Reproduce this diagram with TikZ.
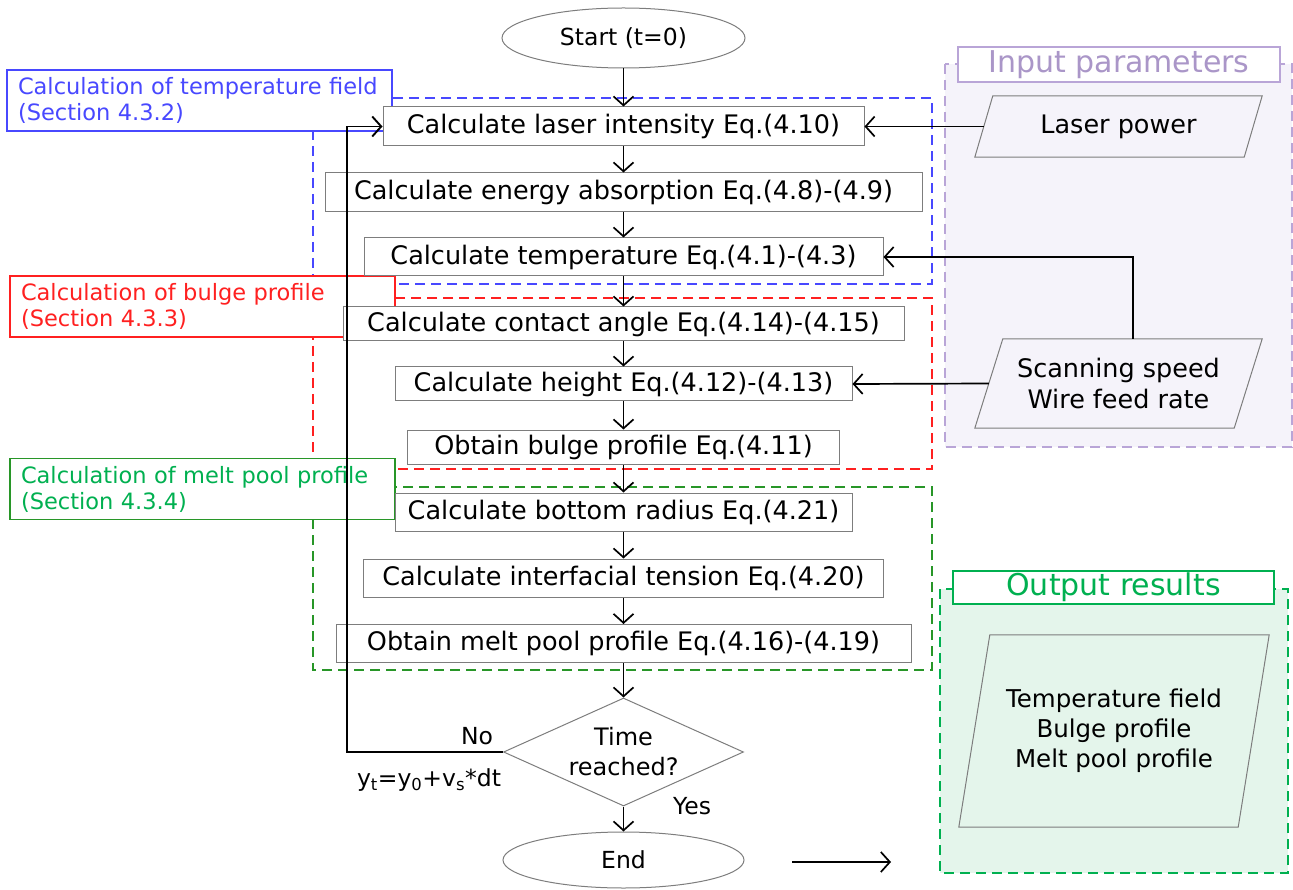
\documentclass[tikz,border=0pt]{standalone}
\usepackage{fontspec}
\setmainfont{DejaVu Sans}
\usetikzlibrary{arrows.meta,shapes.geometric}
\definecolor{cblue}{RGB}{72,72,255}
\definecolor{cred}{RGB}{255,32,32}
\definecolor{cgreenD}{RGB}{40,150,40}
\definecolor{cgreenT}{RGB}{0,176,80}
\definecolor{cpurp}{RGB}{185,165,215}
\definecolor{cpurpT}{RGB}{170,150,200}
\definecolor{cpurpF}{RGB}{245,243,250}
\definecolor{cgreenF}{RGB}{228,245,235}
\definecolor{cgray}{RGB}{125,125,125}
\tikzset{
  proc/.style={draw=cgray, line width=1pt, fill=white, inner sep=0pt,
    font={\fontsize{25.5}{30}\selectfont}},
  term/.style={ellipse, draw=cgray, line width=1pt, fill=white, inner sep=0pt,
    font={\fontsize{23.5}{28}\selectfont}},
  decis/.style={diamond, draw=cgray, line width=1pt, fill=white, inner sep=0pt,
    align=center, font={\fontsize{24}{30}\selectfont}},
  arr/.style={-{Straight Barb[length=9pt,width=20pt]}, line width=1.7pt, black},
  region/.style={dash pattern=on 10pt off 6pt, line width=1.5pt},
  lbl/.style={fill=white, line width=1.5pt, inner sep=0pt, align=left,
    font={\fontsize{22.5}{26}\selectfont}},
  ttl/.style={fill=white, line width=1.5pt, inner sep=0pt,
    font={\fontsize{30}{34}\selectfont}},
  inrect/.style={inner sep=0pt, align=center, font={\fontsize{25.5}{31}\selectfont}},
  pgram/.style={draw=cgray, line width=1pt},
  plain/.style={inner sep=0pt, font={\fontsize{23.5}{28}\selectfont}}
}
\begin{document}
\begin{tikzpicture}[x=1pt,y=-1pt]
\useasboundingbox (0,0) rectangle (1293,890);

% dashed regions
\draw[region, cblue] (313,98) rectangle (932,284);
\draw[region, cred] (313,298) rectangle (932,469);
\draw[region, cgreenD] (313,487) rectangle (932,670);

% input / output panels
\draw[region, draw=cpurp, fill=cpurpF] (945,64) rectangle (1292,447);
\draw[region, draw=cgreenT, fill=cgreenF] (940,589) rectangle (1288,873);
\node[ttl, draw=cpurp, text=cpurpT, minimum width=322, minimum height=35] (tin) at (1119,64.5) {Input parameters};
\node[ttl, draw=cgreenT, text=cgreenT, minimum width=321, minimum height=33] (tout) at (1113.5,587.5) {Output results};

% section labels
\node[lbl, draw=cblue, text=cblue, minimum width=385, minimum height=61, text width=363] (lblue) at (199.5,100.5)
  {Calculation of temperature field\\(Section 4.3.2)};
\node[lbl, draw=cred, text=cred, minimum width=385, minimum height=61, text width=363] (lred) at (202.5,306.5)
  {Calculation of bulge profile\\(Section 4.3.3)};
\node[lbl, draw=cgreenD, text=cgreenT, minimum width=385, minimum height=61, text width=363] (lgreen) at (202.5,489)
  {Calculation of melt pool profile\\(Section 4.3.4)};

% flow nodes
\node[term, minimum width=243, minimum height=60] (start) at (623.5,38) {Start (t=0)};
\node[proc, minimum width=481, minimum height=39] (b1) at (623.5,126.5) {Calculate laser intensity Eq.(4.10)};
\node[proc, minimum width=597, minimum height=39] (b2) at (623.5,192.5) {Calculate energy absorption Eq.(4.8)-(4.9)};
\node[proc, minimum width=519, minimum height=38] (b3) at (623.5,257) {Calculate temperature Eq.(4.1)-(4.3)};
\node[proc, minimum width=561, minimum height=34] (b4) at (623.5,324) {Calculate contact angle Eq.(4.14)-(4.15)};
\node[proc, minimum width=457, minimum height=34] (b5) at (623.5,384) {Calculate height Eq.(4.12)-(4.13)};
\node[proc, minimum width=432, minimum height=34] (b6) at (623.5,447) {Obtain bulge profile Eq.(4.11)};
\node[proc, minimum width=457, minimum height=38] (b7) at (623.5,512) {Calculate bottom radius Eq.(4.21)};
\node[proc, minimum width=520, minimum height=38] (b8) at (623.5,578) {Calculate interfacial tension Eq.(4.20)};
\node[proc, minimum width=575, minimum height=38] (b9) at (623.5,643.5) {Obtain melt pool profile Eq.(4.16)-(4.19)};
\node[decis, minimum width=240, minimum height=108, shape aspect=2.2] (dec) at (623.5,752) {Time\\reached?};
\node[term, minimum width=241, minimum height=56] (end) at (623.5,860) {End};

% parallelograms
\node[inrect, minimum width=287, minimum height=61] (lp) at (1118.5,126.5) {Laser power};
\draw[pgram] ([xshift=18pt]lp.north west) -- (lp.north east) -- ([xshift=-18pt]lp.south east) -- (lp.south west) -- cycle;
\node[inrect, minimum width=287, minimum height=89] (ss) at (1118.5,383.5) {Scanning speed\\Wire feed rate};
\draw[pgram] ([xshift=28pt]ss.north west) -- (ss.north east) -- ([xshift=-28pt]ss.south east) -- (ss.south west) -- cycle;
\node[inrect, minimum width=310, minimum height=192, font={\fontsize{24.5}{30}\selectfont}] (out) at (1114,731) {Temperature field\\Bulge profile\\Melt pool profile};
\draw[pgram] ([xshift=31pt]out.north west) -- (out.north east) -- ([xshift=-31pt]out.south east) -- (out.south west) -- cycle;

% labels
\node[plain] (no) at (477,736) {No};
\node[plain] (yes) at (692,806) {Yes};
\node[plain] (upd) at (429,780) {y\textsubscript{t}=y\textsubscript{0}+v\textsubscript{s}*dt};

% connectors
\draw[arr] (start.south) -- (b1.north);
\draw[arr] (b1.south) -- (b2.north);
\draw[arr] (b2.south) -- (b3.north);
\draw[arr] (b3.south) -- (b4.north);
\draw[arr] (b4.south) -- (b5.north);
\draw[arr] (b5.south) -- (b6.north);
\draw[arr] (b6.south) -- (b7.north);
\draw[arr] (b7.south) -- (b8.north);
\draw[arr] (b8.south) -- (b9.north);
\draw[arr] (b9.south) -- (dec.north);
\draw[arr] (dec.south) -- (end.north);
\draw[arr] ([xshift=9pt]lp.west) -- (b1.east);
\draw[arr] ([xshift=14.5pt]ss.north) -- ([xshift=14.5pt]ss.north |- b3.east) -- (b3.east);
\draw[arr] ([xshift=14pt]ss.west) -- (b5.east);
\draw[arr, line width=1.9pt] (dec.west) -- ++(-156,0) |- (b1.west);
\coordinate (fa) at (792,862);
\coordinate (fb) at (891,862);
\draw[arr] (fa) -- (fb);
\end{tikzpicture}
\end{document}
